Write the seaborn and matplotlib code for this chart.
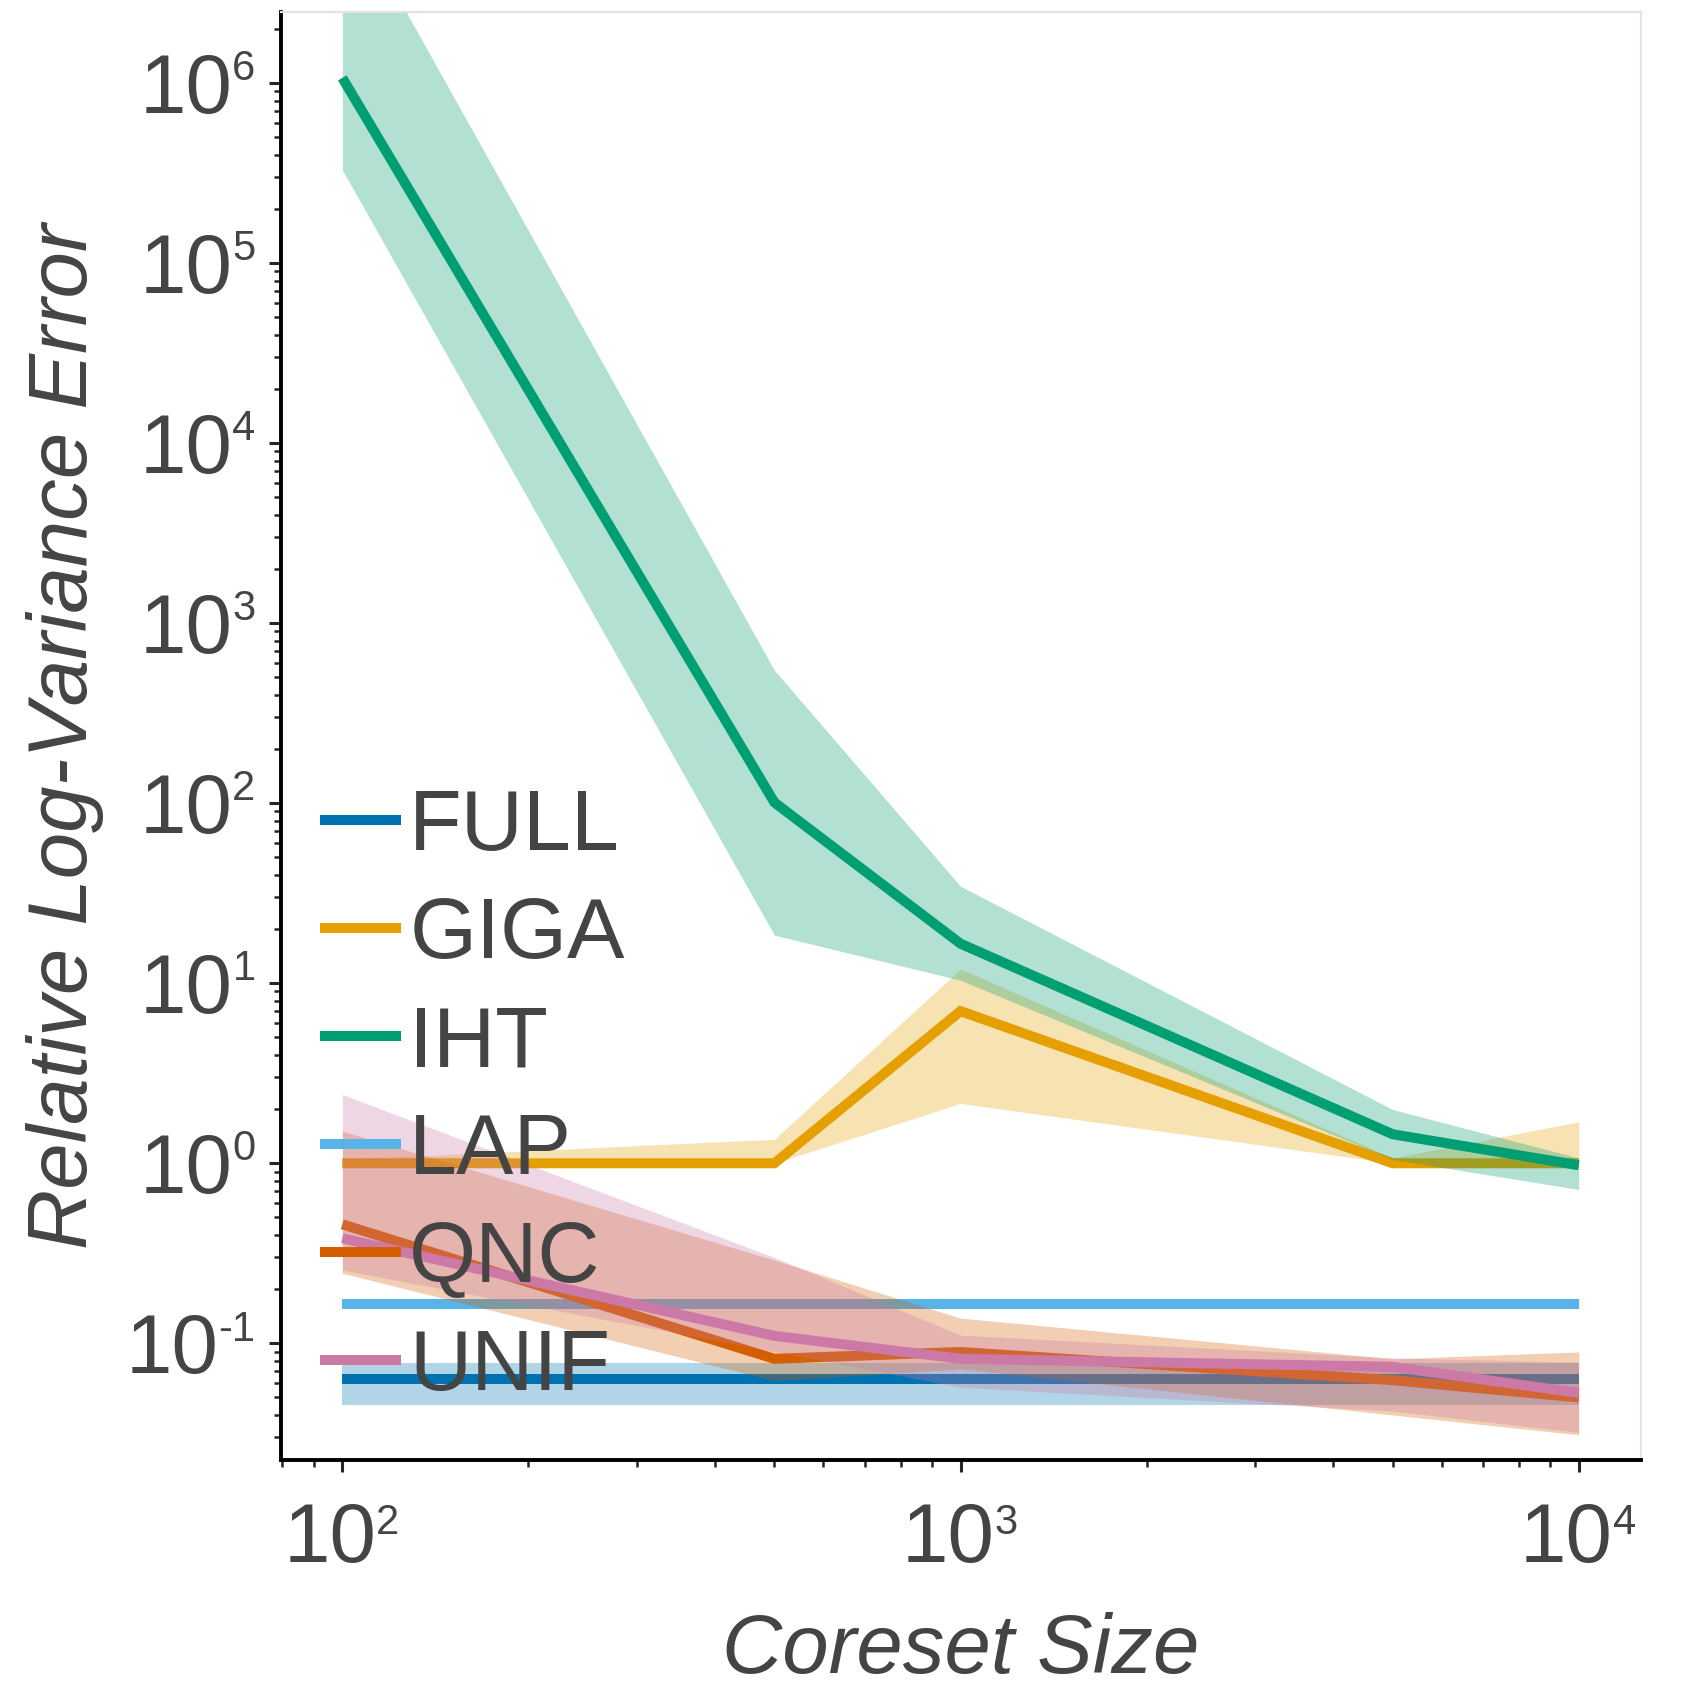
import numpy as np
import pandas as pd
import matplotlib
matplotlib.use("Agg")
import matplotlib.pyplot as plt
import seaborn as sns
from matplotlib.ticker import LogLocator, NullFormatter

# values
sizes = [100, 500, 1000, 5000, 10000]
methods = ["FULL", "GIGA", "IHT", "LAP", "QNC", "UNIF"]
colors = ["#0072B2", "#E69F00", "#009E73", "#56B4E9", "#D55E00", "#CC79A7"]

full_mean = [0.0634, 0.0634, 0.0634, 0.0634, 0.0634]
full_lo = [0.0453, 0.0453, 0.0453, 0.0453, 0.0453]
full_hi = [0.078, 0.078, 0.078, 0.078, 0.078]

giga_mean = [1.0, 1.0, 7.0, 1.0, 1.0]
giga_lo = [0.98, 1.0, 2.15, 1.0, 0.95]
giga_hi = [1.05, 1.36, 12.0, 1.07, 1.7]

iht_mean = [1.07e6, 101.0, 16.6, 1.45, 0.975]
iht_lo = [3.3e5, 18.5, 10.4, 1.05, 0.715]
iht_hi = [1.07e7, 548.0, 34.6, 1.99, 1.07]

lap_mean = [0.166, 0.166, 0.166, 0.166, 0.166]
lap_lo = [0.163, 0.163, 0.163, 0.163, 0.163]
lap_hi = [0.169, 0.169, 0.169, 0.169, 0.169]

qnc_mean = [0.458, 0.082, 0.0895, 0.0624, 0.050]
qnc_lo = [0.245, 0.062, 0.072, 0.040, 0.031]
qnc_hi = [1.51, 0.29, 0.138, 0.082, 0.0895]

unif_mean = [0.383, 0.11, 0.082, 0.074, 0.053]
unif_lo = [0.255, 0.090, 0.057, 0.042, 0.032]
unif_hi = [2.41, 0.30, 0.111, 0.083, 0.0785]

means = [full_mean, giga_mean, iht_mean, lap_mean, qnc_mean, unif_mean]
lows = [full_lo, giga_lo, iht_lo, lap_lo, qnc_lo, unif_lo]
highs = [full_hi, giga_hi, iht_hi, lap_hi, qnc_hi, unif_hi]

TXT = '#444444'
sns.set_style("ticks")
plt.rcParams['font.family'] = ['Liberation Sans', 'DejaVu Sans']
plt.rcParams['text.color'] = TXT
plt.rcParams['axes.labelcolor'] = TXT

fig = plt.figure(figsize=(8.5, 8.5), dpi=200)
ax = fig.add_axes([0.165, 0.141, 0.8, 0.852])

# each method: line first, then its band on top (same zorder keeps draw order)
for name, col, m, lo, hi in zip(methods, colors, means, lows, highs):
    df = pd.DataFrame({'size': sizes, 'err': m})
    sns.lineplot(data=df, x='size', y='err', color=col, lw=3.6, label=name,
                 ax=ax, solid_capstyle='butt', solid_joinstyle='miter', zorder=2)
    ax.fill_between(sizes, lo, hi, color=col, alpha=0.3, lw=0, zorder=2)

ax.set_xscale('log')
ax.set_yscale('log')
ax.set_xlim(10**1.9, 10**4.1)
ax.set_ylim(10**-1.65, 10**6.396)

ax.xaxis.set_major_locator(LogLocator(base=10, numticks=20))
ax.yaxis.set_major_locator(LogLocator(base=10, numticks=20))
ax.xaxis.set_minor_locator(LogLocator(base=10, subs=np.arange(2, 10), numticks=20))
ax.yaxis.set_minor_locator(LogLocator(base=10, subs=np.arange(2, 10), numticks=20))
ax.xaxis.set_minor_formatter(NullFormatter())
ax.yaxis.set_minor_formatter(NullFormatter())

ax.tick_params(which='major', direction='out', length=4.3, width=1.1)
ax.tick_params(which='minor', direction='out', length=2.6, width=0.9)
ax.tick_params(labelleft=False, labelbottom=False)

# tick labels as "10" plus a small raised exponent (as in the reference)
ytr = ax.get_yaxis_transform()
y0, y1 = ax.get_ylim()
for v in ax.get_yticks():
    if not (y0 <= v <= y1):
        continue
    e = str(int(round(np.log10(v))))
    sup = ax.annotate(e, xy=(0, v), xycoords=ytr, xytext=(-9, 1),
                      textcoords='offset points', ha='right', va='baseline',
                      fontsize=15, color=TXT)
    ax.annotate('10', xy=(0, v), xycoords=(sup, ytr), xytext=(0, -10.7),
                textcoords='offset points', ha='right', va='baseline',
                fontsize=30, color=TXT)

xtr = ax.get_xaxis_transform()
x0, x1 = ax.get_xlim()
for v in ax.get_xticks():
    if not (x0 <= v <= x1):
        continue
    e = str(int(round(np.log10(v))))
    base = ax.annotate('10', xy=(v, 0), xycoords=xtr, xytext=(-4.5, -36.5),
                       textcoords='offset points', ha='center', va='baseline',
                       fontsize=30, color=TXT)
    ax.annotate(e, xy=(1, 0), xycoords=(base, xtr), xytext=(0, -26.5),
                textcoords='offset points', ha='left', va='baseline',
                fontsize=15, color=TXT)

for side in ['left', 'bottom']:
    ax.spines[side].set_color('black')
    ax.spines[side].set_linewidth(1.4)
for side in ['top', 'right']:
    ax.spines[side].set_color('#e3e3e3')
    ax.spines[side].set_linewidth(0.8)

ax.set_xlabel('Coreset Size', fontsize=30, style='italic')
ax.set_ylabel('Relative Log-Variance Error', fontsize=30, style='italic')
ax.xaxis.set_label_coords(0.5, -0.105)
ax.yaxis.set_label_coords(-0.130, 0.5)

leg = ax.legend(loc='upper left', bbox_to_anchor=(0.0294, 0.464), frameon=False,
                fontsize=31, handlelength=0.93, handletextpad=0.1,
                labelspacing=0.325, borderpad=0, borderaxespad=0)
for line in leg.get_lines():
    line.set_linewidth(3.6)
    line.set_solid_capstyle('butt')

fig.savefig('out.png', dpi=200, facecolor='white')
